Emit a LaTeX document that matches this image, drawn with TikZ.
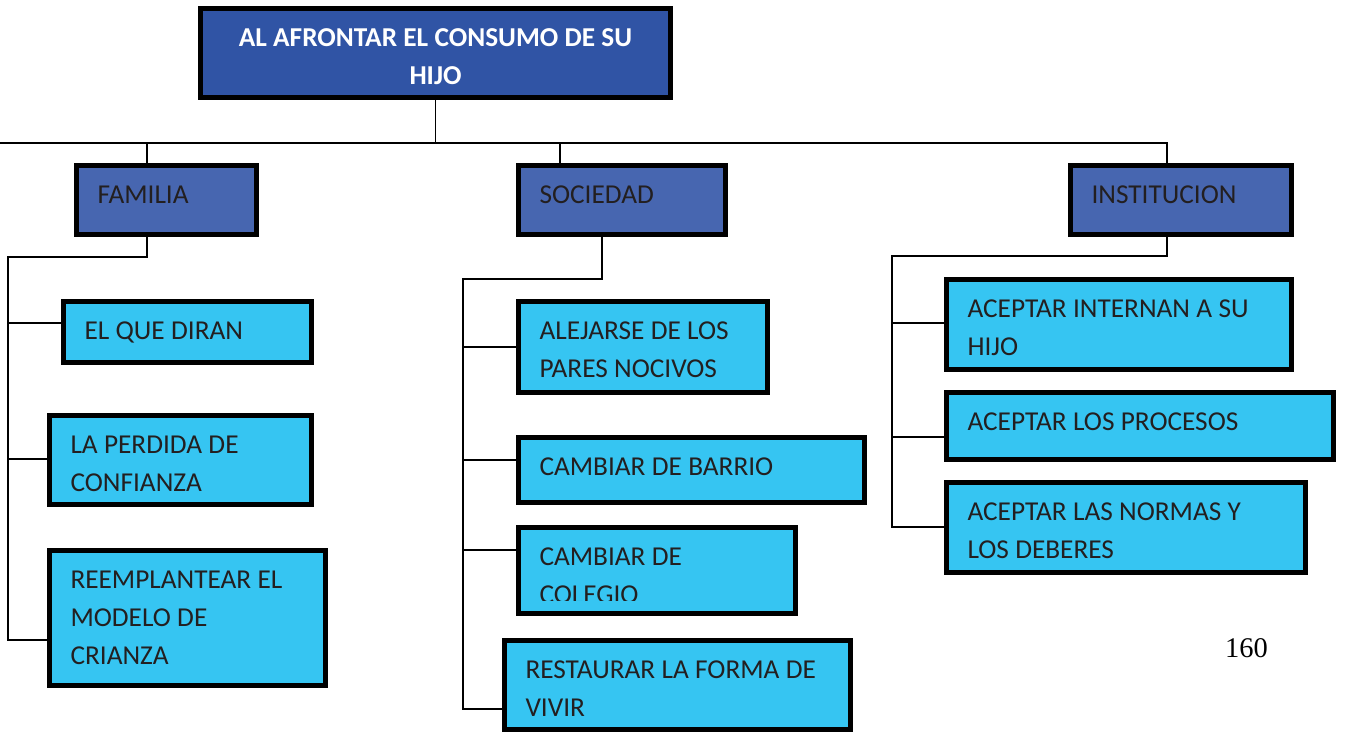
\documentclass[tikz,border=0pt]{standalone}
\usepackage{fontspec}
\setmainfont{Carlito}
\newfontfamily\pagenumfont{Liberation Serif}
\usepackage{xcolor}
\usepackage{tikz}
\definecolor{titleblue}{RGB}{48,84,165}
\definecolor{groupblue}{RGB}{71,102,176}
\definecolor{leafblue}{RGB}{54,197,242}
\definecolor{inkgray}{RGB}{35,31,32}
\newcommand{\boxfont}{\fontsize{27.3}{38}\selectfont}

\begin{document}
\begin{tikzpicture}[x=1pt,y=-1pt]
	\tikzstyle{nodebox}=[draw=black, line width=5pt, anchor=north west, inner xsep=21pt, inner ysep=0pt, text height=38pt, align=left, text=inkgray, font=\boxfont, execute at begin node={\spaceskip=6.3pt\relax}]
	\tikzstyle{group}=[nodebox, fill=groupblue, text depth=31pt]
	\tikzstyle{leaf}=[nodebox, fill=leafblue]
	\tikzstyle{link}=[draw=black, line width=1.5pt]
	\useasboundingbox (0,0) rectangle (1346,733);

	% top
	\node[nodebox, fill=titleblue, align=center, text=white, font=\boxfont\bfseries, text width=428pt, text depth=51pt] (titulo) at (198,6) {AL AFRONTAR EL CONSUMO DE SU\\HIJO};

	% groups
	\node[group, text width=138pt](familia) at (74,163) {FAMILIA};
	\node[group, text width=165pt](sociedad) at (516,163) {SOCIEDAD};
	\node[group, text width=179pt](institucion) at (1068,163) {INSTITUCION};

	% familia
	\node[leaf, text width=206pt, text depth=23pt](quediran) at (61,299) {EL QUE DIRAN};
	\node[leaf, text width=220pt, text depth=51pt](perdida) at (47,413) {LA PERDIDA DE\\CONFIANZA};
	\node[leaf, text width=234pt, text depth=97pt](crianza) at (47,548) {REEMPLANTEAR EL\\MODELO DE\\CRIANZA};

	% sociedad
	\node[leaf, text width=207pt, text depth=53pt](pares) at (516,299) {ALEJARSE DE LOS\\PARES NOCIVOS};
	\node[leaf, text width=304pt, text depth=27pt](barrio) at (516,435) {CAMBIAR DE BARRIO};
	\node[leaf, text width=235pt, text depth=48pt](colegio) at (516,525) {};
	\begin{scope}
		\clip (516,525) rectangle (798,600.5);
		\node[leaf, draw=none, fill=none, text width=235pt, text depth=48pt] at (516,525) {CAMBIAR DE\\COLEGIO};
	\end{scope}
	\node[leaf, text width=304pt, text depth=51pt](vivir) at (502,638) {RESTAURAR LA FORMA DE\\VIVIR};

	% institucion
	\node[leaf, text width=303pt, text depth=52pt](internan) at (944,277) {ACEPTAR INTERNAN A SU\\HIJO};
	\node[leaf, text width=345pt, text depth=29pt](procesos) at (944,390) {ACEPTAR LOS PROCESOS};
	\node[leaf, text width=317pt, text depth=52pt](normas) at (944,480) {ACEPTAR LAS NORMAS Y\\LOS DEBERES};

	\node[font=\pagenumfont\fontsize{28.5}{34}\selectfont, anchor=base, inner sep=0pt](pagina) at (1246.5,657) {160};

	% lines
	\coordinate (bus) at (0,143);
	\draw[link] (titulo.south) -- (titulo.south |- bus);
	\draw[link] (bus) -| (institucion.north -| 1167,0);
	\draw[link] (147,143) -- (familia.north -| 147,0);
	\draw[link] (560,143) -- (sociedad.north -| 560,0);

	\draw[link] (familia.south -| 147,0) -- (147,257) -| (8,640) -- (8,640 -| crianza.west);
	\draw[link] (8,323) -- (8,323 -| quediran.west);
	\draw[link] (8,459) -- (8,459 -| perdida.west);

	\draw[link] (sociedad.south -| 602,0) -- (602,279) -| (463,709) -- (463,709 -| vivir.west);
	\draw[link] (463,347) -- (463,347 -| pares.west);
	\draw[link] (463,460) -- (463,460 -| barrio.west);
	\draw[link] (463,550) -- (463,550 -| colegio.west);

	\draw[link] (institucion.south -| 1167,0) -- (1167,256) -| (892,527) -- (892,527 -| normas.west);
	\draw[link] (892,323) -- (892,323 -| internan.west);
	\draw[link] (892,437) -- (892,437 -| procesos.west);
\end{tikzpicture}
\end{document}
